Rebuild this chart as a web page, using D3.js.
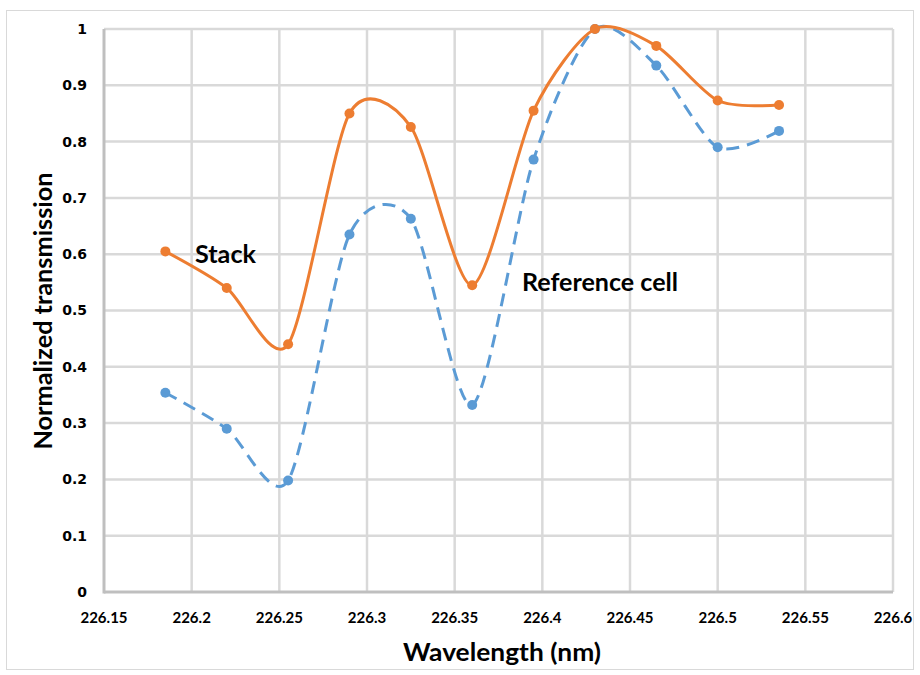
<!DOCTYPE html>
<html>
<head>
<meta charset="utf-8">
<script src="https://cdn.jsdelivr.net/npm/d3@7"></script>
<style>
  body { margin: 0; background: #fff; overflow: hidden; }
  svg { display: block; }
  text { font-family: Lato, "Open Sans", sans-serif; font-weight: bold; fill: #000; }
  .ytick { font-family: "DejaVu Sans", Verdana, sans-serif; }
</style>
</head>
<body>
<svg id="chart" width="920" height="675"></svg>
<script>
// wavelength samples (nm)
var wavelengths = [226.185, 226.22, 226.255, 226.29, 226.325, 226.36, 226.395, 226.43, 226.465, 226.5, 226.535];
// normalized transmission
var stack_vals = [0.605, 0.54, 0.44, 0.85, 0.826, 0.545, 0.855, 1.0, 0.97, 0.873, 0.865];
var ref_vals   = [0.354, 0.29, 0.198, 0.635, 0.663, 0.332, 0.768, 1.0, 0.935, 0.79, 0.819];
var x_ticks = [226.15, 226.2, 226.25, 226.3, 226.35, 226.4, 226.45, 226.5, 226.55, 226.6];
var y_ticks = [0, 0.1, 0.2, 0.3, 0.4, 0.5, 0.6, 0.7, 0.8, 0.9, 1];

var svg = d3.select("#chart");

// outer chart frame
svg.append("rect")
    .attr("x", 6.5).attr("y", 10.5)
    .attr("width", 907).attr("height", 659)
    .attr("fill", "none")
    .attr("stroke", "#d9d9d9")
    .attr("stroke-width", 1);

var x = d3.scaleLinear().domain([226.15, 226.6]).range([104, 893]);
var y = d3.scaleLinear().domain([0, 1]).range([592, 29]);

// gridlines
svg.append("g").selectAll("line.vgrid")
    .data(x_ticks.slice(1))
    .enter().append("line")
    .attr("class", "vgrid")
    .attr("x1", function(d) { return x(d); })
    .attr("x2", function(d) { return x(d); })
    .attr("y1", y(0)).attr("y2", y(1))
    .attr("stroke", "#d9d9d9").attr("stroke-width", 2.5);

svg.append("g").selectAll("line.hgrid")
    .data(y_ticks.slice(1))
    .enter().append("line")
    .attr("class", "hgrid")
    .attr("x1", x(226.15)).attr("x2", x(226.6))
    .attr("y1", function(d) { return y(d); })
    .attr("y2", function(d) { return y(d); })
    .attr("stroke", "#d9d9d9").attr("stroke-width", 2.5);

// axes lines
svg.append("line")
    .attr("x1", x(226.15)).attr("x2", x(226.6))
    .attr("y1", y(0)).attr("y2", y(0))
    .attr("stroke", "#bfbfbf").attr("stroke-width", 3);
svg.append("line")
    .attr("x1", x(226.15)).attr("x2", x(226.15))
    .attr("y1", y(0) + 1.5).attr("y2", y(1))
    .attr("stroke", "#bfbfbf").attr("stroke-width", 3);

// tick labels
svg.append("g").selectAll("text")
    .data(x_ticks)
    .enter().append("text")
    .attr("x", function(d) { return x(d); })
    .attr("y", 623)
    .attr("text-anchor", "middle")
    .style("font-size", "15px")
    .text(function(d) { return d3.format("")(d); });

svg.append("g").selectAll("text")
    .data(y_ticks)
    .enter().append("text")
    .attr("class", "ytick")
    .attr("x", 87)
    .attr("y", function(d) { return y(d); })
    .attr("dy", "0.35em")
    .attr("text-anchor", "end")
    .style("font-size", "14px")
    .text(function(d) { return d; });

// axis titles
svg.append("text")
    .attr("x", 502).attr("y", 661)
    .attr("text-anchor", "middle")
    .style("font-size", "24px")
    .attr("textLength", 198).attr("lengthAdjust", "spacingAndGlyphs")
    .text("Wavelength (nm)");

svg.append("text")
    .attr("transform", "translate(52,311) rotate(-90)")
    .attr("text-anchor", "middle")
    .style("font-size", "24px")
    .attr("textLength", 277).attr("lengthAdjust", "spacingAndGlyphs")
    .text("Normalized transmission");

// series
var stack_data = wavelengths.map(function(w, i) { return [w, stack_vals[i]]; });
var ref_data = wavelengths.map(function(w, i) { return [w, ref_vals[i]]; });

var line = d3.line()
    .x(function(d) { return x(d[0]); })
    .y(function(d) { return y(d[1]); })
    .curve(d3.curveCardinal.tension(0.2));

svg.append("path")
    .datum(ref_data)
    .attr("d", line)
    .attr("fill", "none")
    .attr("stroke", "#5b9bd5")
    .attr("stroke-width", 3)
    .attr("stroke-dasharray", "13,8");

svg.append("g").selectAll("circle")
    .data(ref_data)
    .enter().append("circle")
    .attr("cx", function(d) { return x(d[0]); })
    .attr("cy", function(d) { return y(d[1]); })
    .attr("r", 5)
    .attr("fill", "#5b9bd5");

svg.append("path")
    .datum(stack_data)
    .attr("d", line)
    .attr("fill", "none")
    .attr("stroke", "#ed7d31")
    .attr("stroke-width", 3);

svg.append("g").selectAll("circle")
    .data(stack_data)
    .enter().append("circle")
    .attr("cx", function(d) { return x(d[0]); })
    .attr("cy", function(d) { return y(d[1]); })
    .attr("r", 5)
    .attr("fill", "#ed7d31");

// series labels
svg.append("text")
    .attr("x", 195).attr("y", 263)
    .style("font-size", "24px")
    .attr("textLength", 61).attr("lengthAdjust", "spacingAndGlyphs")
    .text("Stack");

svg.append("text")
    .attr("x", 522).attr("y", 291)
    .style("font-size", "24px")
    .attr("textLength", 156).attr("lengthAdjust", "spacingAndGlyphs")
    .text("Reference cell");
</script>
</body>
</html>
